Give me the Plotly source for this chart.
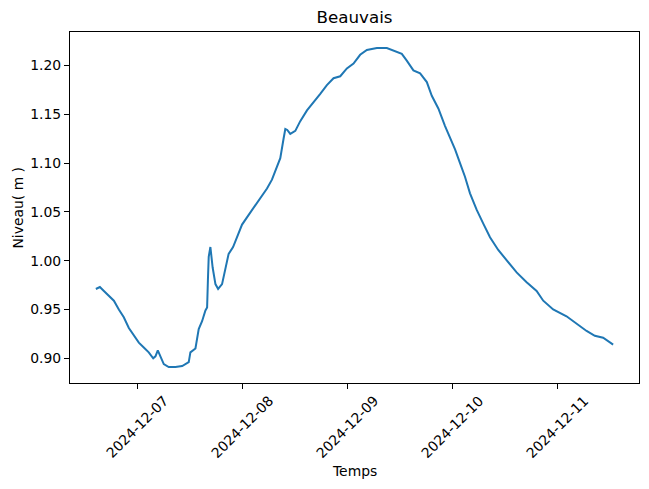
import plotly.graph_objects as go
import pandas as pd

# --- data ---
times = [
    "2024-12-06 14:36", "2024-12-06 15:31", "2024-12-06 16:26", "2024-12-06 17:34",
    "2024-12-06 18:43", "2024-12-06 19:51", "2024-12-06 20:59", "2024-12-06 22:08",
    "2024-12-06 23:16", "2024-12-07 00:25", "2024-12-07 01:33", "2024-12-07 02:41",
    "2024-12-07 03:42", "2024-12-07 04:13", "2024-12-07 04:45", "2024-12-07 05:22",
    "2024-12-07 06:07", "2024-12-07 07:15", "2024-12-07 08:47", "2024-12-07 10:19",
    "2024-12-07 11:49", "2024-12-07 12:12", "2024-12-07 13:21", "2024-12-07 14:06",
    "2024-12-07 14:52", "2024-12-07 15:38", "2024-12-07 16:01", "2024-12-07 16:12",
    "2024-12-07 16:23", "2024-12-07 16:46", "2024-12-07 17:17", "2024-12-07 17:55",
    "2024-12-07 18:32", "2024-12-07 19:26", "2024-12-07 20:11", "2024-12-07 20:56",
    "2024-12-07 21:57", "2024-12-07 22:52", "2024-12-08 00:00", "2024-12-08 01:31",
    "2024-12-08 03:02", "2024-12-08 04:34", "2024-12-08 05:42", "2024-12-08 06:50",
    "2024-12-08 07:59", "2024-12-08 08:44", "2024-12-08 09:29", "2024-12-08 09:53",
    "2024-12-08 10:20", "2024-12-08 11:01", "2024-12-08 12:10", "2024-12-08 13:18",
    "2024-12-08 14:50", "2024-12-08 16:20", "2024-12-08 17:52", "2024-12-08 19:23",
    "2024-12-08 20:54", "2024-12-08 22:26", "2024-12-08 23:57", "2024-12-09 01:28",
    "2024-12-09 02:59", "2024-12-09 04:31", "2024-12-09 06:48", "2024-12-09 09:05",
    "2024-12-09 11:22", "2024-12-09 12:30", "2024-12-09 13:38", "2024-12-09 15:09",
    "2024-12-09 16:41", "2024-12-09 18:13", "2024-12-09 19:21", "2024-12-09 20:51",
    "2024-12-09 22:23", "2024-12-09 23:31", "2024-12-10 00:40", "2024-12-10 01:48",
    "2024-12-10 02:56", "2024-12-10 04:05", "2024-12-10 05:37", "2024-12-10 07:07",
    "2024-12-10 08:39", "2024-12-10 10:32", "2024-12-10 12:28", "2024-12-10 14:44",
    "2024-12-10 17:01", "2024-12-10 19:18", "2024-12-10 20:49", "2024-12-10 23:05",
    "2024-12-11 02:08", "2024-12-11 04:26", "2024-12-11 06:43", "2024-12-11 08:36",
    "2024-12-11 10:30", "2024-12-11 12:47",
]
levels = [
    0.971, 0.973, 0.969, 0.964,
    0.959, 0.950, 0.942, 0.931,
    0.923, 0.916, 0.911, 0.906,
    0.900, 0.902, 0.908, 0.902,
    0.894, 0.891, 0.891, 0.892,
    0.896, 0.906, 0.910, 0.930,
    0.938, 0.949, 0.952, 0.980,
    1.004, 1.014, 0.993, 0.976,
    0.971, 0.976, 0.990, 1.007,
    1.014, 1.024, 1.037, 1.047,
    1.057, 1.066, 1.074, 1.083,
    1.097, 1.105, 1.125, 1.135,
    1.134, 1.130, 1.133, 1.143,
    1.154, 1.162, 1.171, 1.180,
    1.187, 1.189, 1.197, 1.202,
    1.211, 1.216, 1.218, 1.218,
    1.214, 1.212, 1.205, 1.195,
    1.192, 1.183, 1.169, 1.156,
    1.138, 1.126, 1.114, 1.100,
    1.086, 1.069, 1.052, 1.038,
    1.024, 1.011, 1.000, 0.988,
    0.978, 0.969, 0.959, 0.950,
    0.943, 0.935, 0.928, 0.923,
    0.921, 0.914,
]
tick_dates = ["2024-12-07", "2024-12-08", "2024-12-09", "2024-12-10", "2024-12-11"]
y_ticks = [0.90, 0.95, 1.00, 1.05, 1.10, 1.15, 1.20]
title_text = "Beauvais"
x_title = "Temps"
y_title = "Niveau( m )"

FONT = "DejaVu Sans"
W, H = 641, 481  # page body has an 8px margin
t = pd.to_datetime(times)
span = t.max() - t.min()
x_range = [t.min() - span * 0.05, t.max() + span * 0.05]
vspan = max(levels) - min(levels)
y_range = [min(levels) - vspan * 0.05, max(levels) + vspan * 0.05]

fig = go.Figure()
fig.add_trace(go.Scatter(x=t, y=levels, mode="lines",
                         line=dict(color="#1f77b4", width=2), showlegend=False))

axis_common = dict(showline=True, linecolor="black", linewidth=1, mirror=True,
                   ticks="outside", ticklen=5, tickwidth=1, tickcolor="black",
                   showgrid=False, zeroline=False,
                   tickfont=dict(family=FONT, size=13.9, color="black"))
fig.update_xaxes(range=x_range, tickvals=pd.to_datetime(tick_dates), showticklabels=False,
                 **axis_common)
fig.update_yaxes(range=y_range, tickvals=y_ticks, ticktext=[f"{v:.2f}" for v in y_ticks],
                 **axis_common)

annotations = []
for d in tick_dates:
    annotations.append(dict(x=pd.to_datetime(d), y=-0.02, xref="x", yref="paper",
                            text=d, showarrow=False, textangle=-45,
                            xanchor="center", yanchor="top",
                            font=dict(family=FONT, size=13.9, color="black")))
annotations.append(dict(x=0.5, y=-0.2507, xref="paper", yref="paper", text=x_title,
                        showarrow=False, xanchor="center", yanchor="middle",
                        font=dict(family=FONT, size=13.9, color="black")))
annotations.append(dict(x=-0.0931, y=0.5, xref="paper", yref="paper", text=y_title,
                        showarrow=False, textangle=-90, xanchor="center", yanchor="middle",
                        font=dict(family=FONT, size=13.9, color="black")))

fig.update_layout(
    width=W, height=H,
    margin=dict(l=62, r=10, t=24, b=106),
    paper_bgcolor="white", plot_bgcolor="white",
    title=dict(text=title_text, x=0.5, xref="paper", y=1 - 9 / H, yanchor="middle",
               xanchor="center", font=dict(family=FONT, size=16.7, color="black")),
    annotations=annotations,
)

fig.write_html("out.html")
